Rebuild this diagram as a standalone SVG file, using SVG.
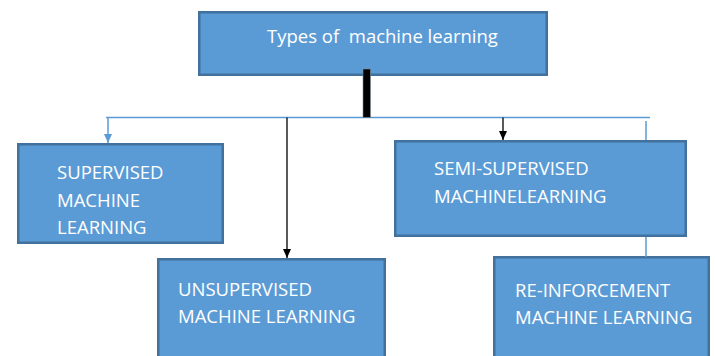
<svg xmlns="http://www.w3.org/2000/svg" width="715" height="356" viewBox="0 0 715 356">
  <style>
    .box { fill: #5B9BD5; stroke: #41719C; stroke-width: 2.5; }
    .label { font-family: "Open Sans", "Liberation Sans", sans-serif; font-size: 18.5px; fill: #FFFFFF; }
    .blue { stroke: #5B9BD5; stroke-width: 1.5; fill: none; }
    .black { stroke: #000000; stroke-width: 1.3; fill: none; }
  </style>
  <defs>
    <marker id="arrow-blue" markerUnits="userSpaceOnUse" markerWidth="8" markerHeight="9" refX="4" refY="9" viewBox="0 0 8 9">
      <path d="M0,0 L8,0 L4,9 Z" fill="#5B9BD5"/>
    </marker>
    <marker id="arrow-dark" markerUnits="userSpaceOnUse" markerWidth="8" markerHeight="9" refX="4" refY="9" viewBox="0 0 8 9">
      <path d="M0,0 L8,0 L4,9 Z" fill="#000000"/>
    </marker>
  </defs>

  <g id="types">
    <rect class="box" x="199.25" y="12.25" width="347.5" height="62.5"/>
    <text class="label" x="267" y="43" xml:space="preserve">Types of  machine learning</text>
  </g>

  <g id="supervised">
    <rect class="box" x="18.25" y="144.25" width="204.5" height="98.5"/>
    <text class="label" x="57" y="179">SUPERVISED</text>
    <text class="label" x="57" y="207">MACHINE</text>
    <text class="label" x="57" y="234">LEARNING</text>
  </g>

  <g id="semi-supervised">
    <rect class="box" x="395.25" y="141.25" width="290.5" height="94.5"/>
    <text class="label" x="434" y="175">SEMI-SUPERVISED</text>
    <text class="label" x="434" y="203">MACHINELEARNING</text>
  </g>

  <g id="unsupervised">
    <rect class="box" x="158.25" y="259.25" width="226.5" height="110"/>
    <text class="label" x="178" y="296">UNSUPERVISED</text>
    <text class="label" x="178" y="323">MACHINE LEARNING</text>
  </g>

  <g id="reinforcement">
    <rect class="box" x="494.25" y="257.25" width="214.5" height="110"/>
    <text class="label" x="515" y="297">RE-INFORCEMENT</text>
    <text class="label" x="515" y="324">MACHINE LEARNING</text>
  </g>

  <!-- connectors -->
  <g id="connectors">
    <path class="blue" d="M106 117.5 H650"/>
    <path class="blue" d="M108 117.5 V143" marker-end="url(#arrow-blue)"/>
    <path class="blue" d="M646 121 V140 M646 237 V257"/>
    <path class="black" d="M287 117.5 V258" marker-end="url(#arrow-dark)"/>
    <path class="black" d="M503 117.5 V140" marker-end="url(#arrow-dark)"/>
    <rect x="363" y="69" width="7.5" height="48.5" fill="#000000" stroke="#7F8C99" stroke-width="0.6"/>
  </g>
</svg>
